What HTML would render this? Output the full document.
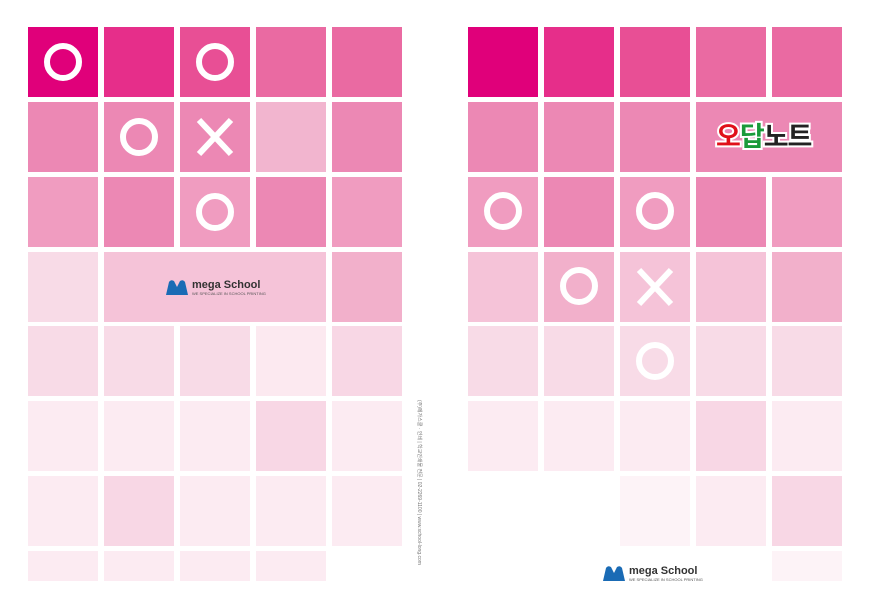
<!DOCTYPE html>
<html><head><meta charset="utf-8"><style>
html,body{margin:0;padding:0;background:#fff;width:870px;height:608px;overflow:hidden}
</style></head><body>
<svg width="870" height="608" viewBox="0 0 870 608" xmlns="http://www.w3.org/2000/svg" font-family="Liberation Sans, sans-serif">
<rect width="870" height="608" fill="#fff"/>
<g id="L">
<rect x="28" y="27" width="70" height="70" fill="#e0007a"/>
<rect x="104" y="27" width="70" height="70" fill="#e62e8a"/>
<rect x="180" y="27" width="70" height="70" fill="#e84f95"/>
<rect x="256" y="27" width="70" height="70" fill="#ea6aa2"/>
<rect x="332" y="27" width="70" height="70" fill="#ea6aa2"/>
<rect x="28" y="102" width="70" height="70" fill="#ec88b4"/>
<rect x="104" y="102" width="70" height="70" fill="#ec88b4"/>
<rect x="180" y="102" width="70" height="70" fill="#ec88b4"/>
<rect x="256" y="102" width="70" height="70" fill="#f2b5cf"/>
<rect x="332" y="102" width="70" height="70" fill="#ec88b4"/>
<rect x="28" y="177" width="70" height="70" fill="#f09cc0"/>
<rect x="104" y="177" width="70" height="70" fill="#ec88b4"/>
<rect x="180" y="177" width="70" height="70" fill="#f09cc0"/>
<rect x="256" y="177" width="70" height="70" fill="#ec88b4"/>
<rect x="332" y="177" width="70" height="70" fill="#f09cc0"/>
<rect x="28" y="252" width="70" height="70" fill="#f8dbe7"/>
<rect x="104" y="252" width="222" height="70" fill="#f5c3d8"/>
<rect x="332" y="252" width="70" height="70" fill="#f2b0cb"/>
<rect x="28" y="326" width="70" height="70" fill="#f8dbe7"/>
<rect x="104" y="326" width="70" height="70" fill="#f8dbe7"/>
<rect x="180" y="326" width="70" height="70" fill="#f8dbe7"/>
<rect x="256" y="326" width="70" height="70" fill="#fce9f0"/>
<rect x="332" y="326" width="70" height="70" fill="#f8d7e5"/>
<rect x="28" y="401" width="70" height="70" fill="#fcebf2"/>
<rect x="104" y="401" width="70" height="70" fill="#fcebf2"/>
<rect x="180" y="401" width="70" height="70" fill="#fcebf2"/>
<rect x="256" y="401" width="70" height="70" fill="#f8d7e5"/>
<rect x="332" y="401" width="70" height="70" fill="#fcebf2"/>
<rect x="28" y="476" width="70" height="70" fill="#fcebf2"/>
<rect x="104" y="476" width="70" height="70" fill="#f8d7e5"/>
<rect x="180" y="476" width="70" height="70" fill="#fcebf2"/>
<rect x="256" y="476" width="70" height="70" fill="#fcebf2"/>
<rect x="332" y="476" width="70" height="70" fill="#fcebf2"/>
<rect x="28" y="551" width="70" height="30" fill="#fcebf2"/>
<rect x="104" y="551" width="70" height="30" fill="#fcebf2"/>
<rect x="180" y="551" width="70" height="30" fill="#fcebf2"/>
<rect x="256" y="551" width="70" height="30" fill="#fcebf2"/>
</g>
<g id="R">
<rect x="468" y="27" width="70" height="70" fill="#e0007a"/>
<rect x="544" y="27" width="70" height="70" fill="#e62e8a"/>
<rect x="620" y="27" width="70" height="70" fill="#e84f95"/>
<rect x="696" y="27" width="70" height="70" fill="#ea6aa2"/>
<rect x="772" y="27" width="70" height="70" fill="#ea6aa2"/>
<rect x="468" y="102" width="70" height="70" fill="#ec88b4"/>
<rect x="544" y="102" width="70" height="70" fill="#ec88b4"/>
<rect x="620" y="102" width="70" height="70" fill="#ec88b4"/>
<rect x="696" y="102" width="146" height="70" fill="#ec88b4"/>
<rect x="468" y="177" width="70" height="70" fill="#f09cc0"/>
<rect x="544" y="177" width="70" height="70" fill="#ec88b4"/>
<rect x="620" y="177" width="70" height="70" fill="#f09cc0"/>
<rect x="696" y="177" width="70" height="70" fill="#ec88b4"/>
<rect x="772" y="177" width="70" height="70" fill="#f09cc0"/>
<rect x="468" y="252" width="70" height="70" fill="#f5c3d8"/>
<rect x="544" y="252" width="70" height="70" fill="#f2b0cb"/>
<rect x="620" y="252" width="70" height="70" fill="#f5c3d8"/>
<rect x="696" y="252" width="70" height="70" fill="#f5c3d8"/>
<rect x="772" y="252" width="70" height="70" fill="#f2b0cb"/>
<rect x="468" y="326" width="70" height="70" fill="#f8dbe7"/>
<rect x="544" y="326" width="70" height="70" fill="#f8dbe7"/>
<rect x="620" y="326" width="70" height="70" fill="#f8dbe7"/>
<rect x="696" y="326" width="70" height="70" fill="#f8dbe7"/>
<rect x="772" y="326" width="70" height="70" fill="#f8dbe7"/>
<rect x="468" y="401" width="70" height="70" fill="#fcebf2"/>
<rect x="544" y="401" width="70" height="70" fill="#fcebf2"/>
<rect x="620" y="401" width="70" height="70" fill="#fcebf2"/>
<rect x="696" y="401" width="70" height="70" fill="#f8d7e5"/>
<rect x="772" y="401" width="70" height="70" fill="#fcebf2"/>
<rect x="620" y="476" width="70" height="70" fill="#fdf3f7"/>
<rect x="696" y="476" width="70" height="70" fill="#fcebf2"/>
<rect x="772" y="476" width="70" height="70" fill="#f8d7e5"/>
<rect x="772" y="551" width="70" height="30" fill="#fdf3f7"/>
</g>
<g fill="none" stroke="#fff" stroke-width="6">
<circle cx="63" cy="62" r="16"/>
<circle cx="215" cy="62" r="16"/>
<circle cx="139" cy="137" r="16"/>
<circle cx="215" cy="212" r="16"/>
<circle cx="503" cy="211" r="16"/>
<circle cx="655" cy="211" r="16"/>
<circle cx="579" cy="286" r="16"/>
<circle cx="655" cy="361" r="16"/>
</g>
<g stroke="#fff" stroke-width="6">
<path d="M199 120 L231 154 M231 120 L199 154"/>
<path d="M639 270 L671 304 M671 270 L639 304"/>
</g>
<text x="716" y="146" font-size="27" font-weight="bold" font-family="Liberation Sans, 'Noto Sans CJK KR', sans-serif" stroke="#fff" stroke-width="4" paint-order="stroke" letter-spacing="-1"><tspan fill="#e0101a">오</tspan><tspan fill="#1a9a3a">답</tspan><tspan fill="#222">노트</tspan></text>
<g transform="translate(166,279)">
<path d="M0 16 L3 3 Q5 0 8 2 L11 8 L14 2 Q17 0 19 3 L22 16 Z" fill="#1a6bb5"/>
<text x="26" y="9" font-size="11" font-weight="bold" fill="#333">mega School</text>
<text x="26" y="16" font-size="4" fill="#555">WE SPECIALIZE IN SCHOOL PRINTING</text>
</g>
<g transform="translate(603,565)">
<path d="M0 16 L3 3 Q5 0 8 2 L11 8 L14 2 Q17 0 19 3 L22 16 Z" fill="#1a6bb5"/>
<text x="26" y="9" font-size="11" font-weight="bold" fill="#333">mega School</text>
<text x="26" y="16" font-size="4" fill="#555">WE SPECIALIZE IN SCHOOL PRINTING</text>
</g>
<text transform="translate(418,400) rotate(90)" font-size="5" fill="#777" font-family="Liberation Sans, 'Noto Sans CJK KR', sans-serif">(주)메가스쿨 · 인쇄 | 학교인쇄물 전문 | 02-2269-1100 | www.school-long.com</text>
</svg>
</body></html>
